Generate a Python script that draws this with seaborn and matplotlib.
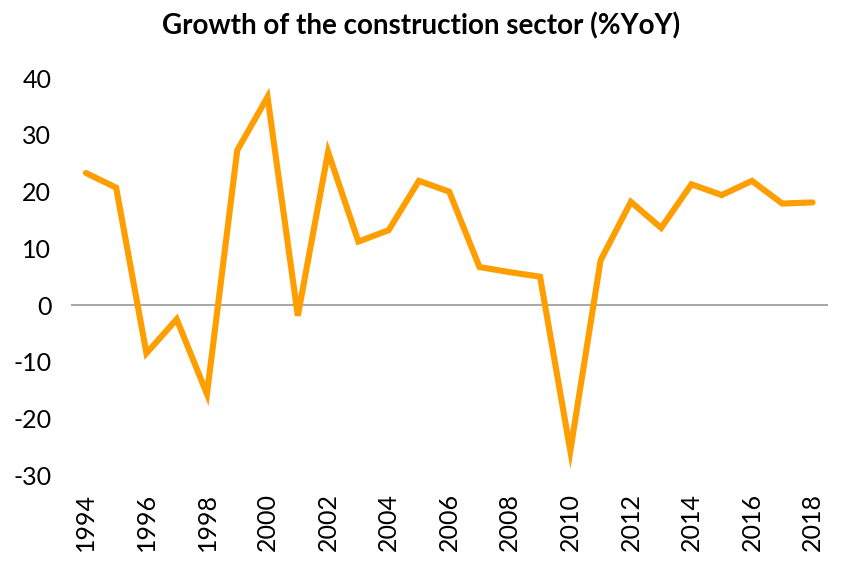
import matplotlib
matplotlib.use("Agg")
import matplotlib.pyplot as plt
import seaborn as sns
import pandas as pd

years = list(range(1994, 2019))
growth = [23.3, 20.7, -8.5, -2.5, -15.7, 27.3, 36.7, -1.9, 27.0, 11.2, 13.2,
          21.9, 20.0, 6.7, 5.8, 5.0, -25.7, 7.9, 18.2, 13.6, 21.3, 19.4, 21.9,
          17.9, 18.1]
tick_years = years[::2]
yticks = [-30, -20, -10, 0, 10, 20, 30, 40]
title = "Growth of the construction sector (%YoY)"

sns.set_theme(style="white")
plt.rcParams['font.family'] = ['Lato', 'DejaVu Sans']

df = pd.DataFrame({"year": years, "growth": growth})

fig = plt.figure(figsize=(8.42, 5.67), dpi=100)
ax = fig.add_axes([0.084, 0.162, 0.899, 0.700])
sns.lineplot(data=df, x="year", y="growth", ax=ax, color="#FF9E00",
             linewidth=4.4, solid_joinstyle="miter", solid_capstyle="round")
ax.axhline(0, color="#A0A0A0", linewidth=1.3, zorder=0)

ax.set_xlim(years[0] - 0.5, years[-1] + 0.5)
ax.set_ylim(-30, 40)
ax.set_xticks(tick_years)
ax.set_xticklabels([str(y) for y in tick_years], rotation=90, fontsize=18, color="black")
ax.set_yticks(yticks)
ax.set_yticklabels([str(v) for v in yticks], fontsize=18, color="black")
ax.tick_params(axis="x", pad=13, length=0)
ax.tick_params(axis="y", pad=14, length=0)
ax.set_xlabel("")
ax.set_ylabel("")
for s in ax.spines.values():
    s.set_visible(False)

fig.suptitle(title, x=0.5, y=0.978, fontsize=20, fontweight="bold", color="black")

fig.savefig("out.png", dpi=100)
